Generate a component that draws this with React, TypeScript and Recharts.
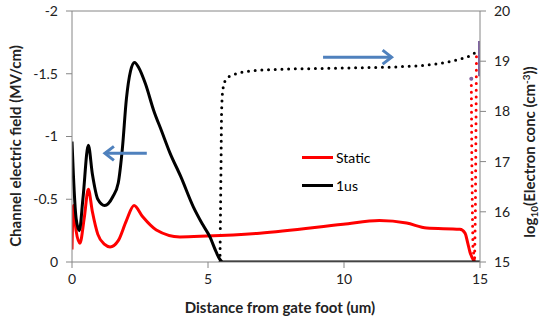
import {
  LineChart,
  Line,
  XAxis,
  YAxis,
  Legend,
  ReferenceLine,
  ReferenceDot,
} from 'recharts';

// field (MV/cm), left axis
const staticField = [
  { x: 0, y: -0.1 }, { x: 0.05, y: -0.45 }, { x: 0.15, y: -0.25 }, { x: 0.29, y: -0.15 },
  { x: 0.45, y: -0.35 }, { x: 0.6, y: -0.58 }, { x: 0.75, y: -0.4 }, { x: 0.95, y: -0.22 },
  { x: 1.2, y: -0.14 }, { x: 1.4, y: -0.12 }, { x: 1.7, y: -0.17 }, { x: 2.0, y: -0.33 },
  { x: 2.28, y: -0.45 }, { x: 2.6, y: -0.36 }, { x: 3.1, y: -0.255 }, { x: 3.97, y: -0.2 },
  { x: 4.95, y: -0.207 }, { x: 6.9, y: -0.23 }, { x: 9.97, y: -0.3 }, { x: 11.3, y: -0.33 },
  { x: 12.3, y: -0.31 }, { x: 13.04, y: -0.27 }, { x: 14.26, y: -0.26 }, { x: 14.45, y: -0.23 },
  { x: 14.55, y: -0.15 }, { x: 14.63, y: -0.08 }, { x: 14.8, y: 0 },
];

const pulsedField = [
  { x: 0, y: -0.96 }, { x: 0.05, y: -0.7 }, { x: 0.15, y: -0.35 }, { x: 0.27, y: -0.25 },
  { x: 0.4, y: -0.5 }, { x: 0.6, y: -0.93 }, { x: 0.75, y: -0.7 }, { x: 0.95, y: -0.5 },
  { x: 1.2, y: -0.45 }, { x: 1.5, y: -0.52 }, { x: 1.7, y: -0.63 }, { x: 1.85, y: -0.9 },
  { x: 2.0, y: -1.3 }, { x: 2.15, y: -1.52 }, { x: 2.3, y: -1.59 }, { x: 2.45, y: -1.55 },
  { x: 2.7, y: -1.42 }, { x: 3.0, y: -1.21 }, { x: 3.3, y: -1.04 }, { x: 3.6, y: -0.87 },
  { x: 4.0, y: -0.68 }, { x: 4.46, y: -0.44 }, { x: 4.8, y: -0.3 }, { x: 5.07, y: -0.2 },
  { x: 5.3, y: -0.08 }, { x: 5.44, y: -0.02 }, { x: 5.55, y: 0 }, { x: 15, y: 0 },
];

// log10 electron conc, right axis
const pulsedConc = [
  { x: 5.44, y: 15 }, { x: 5.46, y: 16 }, { x: 5.48, y: 17 }, { x: 5.5, y: 18 },
  { x: 5.55, y: 18.45 }, { x: 5.69, y: 18.66 }, { x: 6.05, y: 18.75 }, { x: 6.5, y: 18.8 },
  { x: 7.16, y: 18.83 }, { x: 9.6, y: 18.86 }, { x: 12.06, y: 18.89 }, { x: 13.3, y: 18.94 },
  { x: 14.26, y: 19.04 }, { x: 14.6, y: 19.1 }, { x: 14.88, y: 19.19 },
];

const staticConc = [
  { x: 14.68, y: 18.65 }, { x: 14.7, y: 17 }, { x: 14.72, y: 16 }, { x: 14.74, y: 15.3 },
  { x: 14.8, y: 15 }, { x: 14.83, y: 16 }, { x: 14.85, y: 17.5 }, { x: 14.87, y: 19.1 },
];

const marker = [{ x: 15, y: 18.7 }, { x: 15, y: 19.4 }];

const legendOrder = ['Static', '1us'];
const xTicks = [0, 5, 10, 15];
const leftTicks = [-2, -1.5, -1, -0.5, 0];
const rightTicks = [15, 16, 17, 18, 19, 20];

const FONT = 'Lato, "Liberation Sans", sans-serif';
const AXIS = '#868686';
const BLUE = '#4f81bd';
const TICK = { fill: '#222', fontSize: 14, fontFamily: FONT };

const Arrow = (props: any) => {
  const { x1, y1, x2, y2 } = props;
  const dir = x2 > x1 ? 1 : -1;
  return (
    <g>
      <line x1={x1} y1={y1} x2={x2} y2={y2} stroke={BLUE} strokeWidth={3} />
      <path
        d={`M${x2 - dir * 9},${y2 - 7} L${x2},${y2} L${x2 - dir * 9},${y2 + 7}`}
        fill="none"
        stroke={BLUE}
        strokeWidth={3}
      />
    </g>
  );
};

const LegendBox = ({ payload }: any) => {
  const items = legendOrder
    .map((name) => (payload || []).find((p: any) => p.value === name))
    .filter(Boolean);
  return (
    <div style={{ fontFamily: FONT, fontSize: 14 }}>
      {items.map((p: any) => (
        <div key={p.value} style={{ display: 'flex', alignItems: 'center', height: 28 }}>
          <div style={{ width: 31, height: 3, background: p.color, marginRight: 3 }} />
          <span>{p.value}</span>
        </div>
      ))}
    </div>
  );
};

export default function App() {
  return (
    <div style={{ position: 'absolute', left: 0, top: 0, background: '#fff' }}>
      <LineChart width={542} height={320} margin={{ top: 11, right: 0, bottom: 0, left: 0 }}>
        <XAxis
          dataKey="x"
          type="number"
          domain={[0, 15]}
          ticks={xTicks}
          allowDataOverflow
          height={58}
          stroke={AXIS}
          tickSize={6}
          tickMargin={6}
          tick={TICK}
          label={() => (
            <text
              x={280}
              y={313}
              textAnchor="middle"
              fontFamily={FONT}
              fontSize={15}
              fontWeight="bold"
              fill="#222"
            >
              Distance from gate foot (um)
            </text>
          )}
        />
        <YAxis
          yAxisId="left"
          domain={[-2, 0]}
          reversed
          ticks={leftTicks}
          allowDataOverflow
          width={72}
          stroke={AXIS}
          tickSize={6}
          tickMargin={8}
          tick={TICK}
          label={() => (
            <text
              x={21}
              y={146}
              transform="rotate(-90 21 146)"
              textAnchor="middle"
              fontFamily={FONT}
              fontSize={15}
              fontWeight="bold"
              fill="#222"
            >
              Channel electric field (MV/cm)
            </text>
          )}
        />
        <YAxis
          yAxisId="right"
          orientation="right"
          domain={[15, 20]}
          ticks={rightTicks}
          allowDataOverflow
          width={62}
          stroke={AXIS}
          tickSize={6}
          tickMargin={8}
          tick={TICK}
          label={() => (
            <text
              x={535}
              y={152}
              transform="rotate(-90 535 152)"
              textAnchor="middle"
              fontFamily={FONT}
              fontSize={15}
              fontWeight="bold"
              fill="#222"
            >
              log
              <tspan fontSize={10} dy={3}>10</tspan>
              <tspan dy={-3}>(Electron conc (cm</tspan>
              <tspan fontSize={10} dy={-5}>-3</tspan>
              <tspan dy={5}>))</tspan>
            </text>
          )}
        />
        <ReferenceLine yAxisId="left" y={-2} stroke={AXIS} />
        <Legend
          layout="vertical"
          align="center"
          verticalAlign="middle"
          content={<LegendBox />}
          wrapperStyle={{ position: 'absolute', left: 302, top: 143, width: 80 }}
        />
        <Line
          yAxisId="right"
          data={pulsedConc}
          dataKey="y"
          type="monotone"
          stroke="#000"
          strokeWidth={3}
          strokeDasharray="0 6.7"
          strokeLinecap="round"
          dot={false}
          legendType="none"
          name="1us conc"
          isAnimationActive={false}
        />
        <Line
          yAxisId="right"
          data={staticConc}
          dataKey="y"
          type="linear"
          stroke="#ff0000"
          strokeWidth={3}
          strokeDasharray="0 6.7"
          strokeLinecap="round"
          dot={false}
          legendType="none"
          name="Static conc"
          isAnimationActive={false}
        />
        <Line
          yAxisId="left"
          data={staticField}
          dataKey="y"
          type="monotone"
          stroke="#ff0000"
          strokeWidth={3}
          dot={false}
          name="Static"
          isAnimationActive={false}
        />
        <Line
          yAxisId="left"
          data={pulsedField}
          dataKey="y"
          type="monotone"
          stroke="#000"
          strokeWidth={3}
          dot={false}
          name="1us"
          isAnimationActive={false}
        />
        <Line
          yAxisId="right"
          data={marker}
          dataKey="y"
          type="linear"
          stroke="#8064a2"
          strokeWidth={4}
          dot={false}
          legendType="none"
          name="marker"
          isAnimationActive={false}
        />
        <ReferenceDot yAxisId="right" x={14.68} y={18.65} r={2} fill="#8064a2" stroke="none" />
        <ReferenceLine
          yAxisId="left"
          segment={[{ x: 2.75, y: -0.866 }, { x: 1.21, y: -0.866 }]}
          shape={<Arrow />}
        />
        <ReferenceLine
          yAxisId="right"
          segment={[{ x: 9.23, y: 19.08 }, { x: 11.75, y: 19.08 }]}
          shape={<Arrow />}
        />
      </LineChart>
    </div>
  );
}
